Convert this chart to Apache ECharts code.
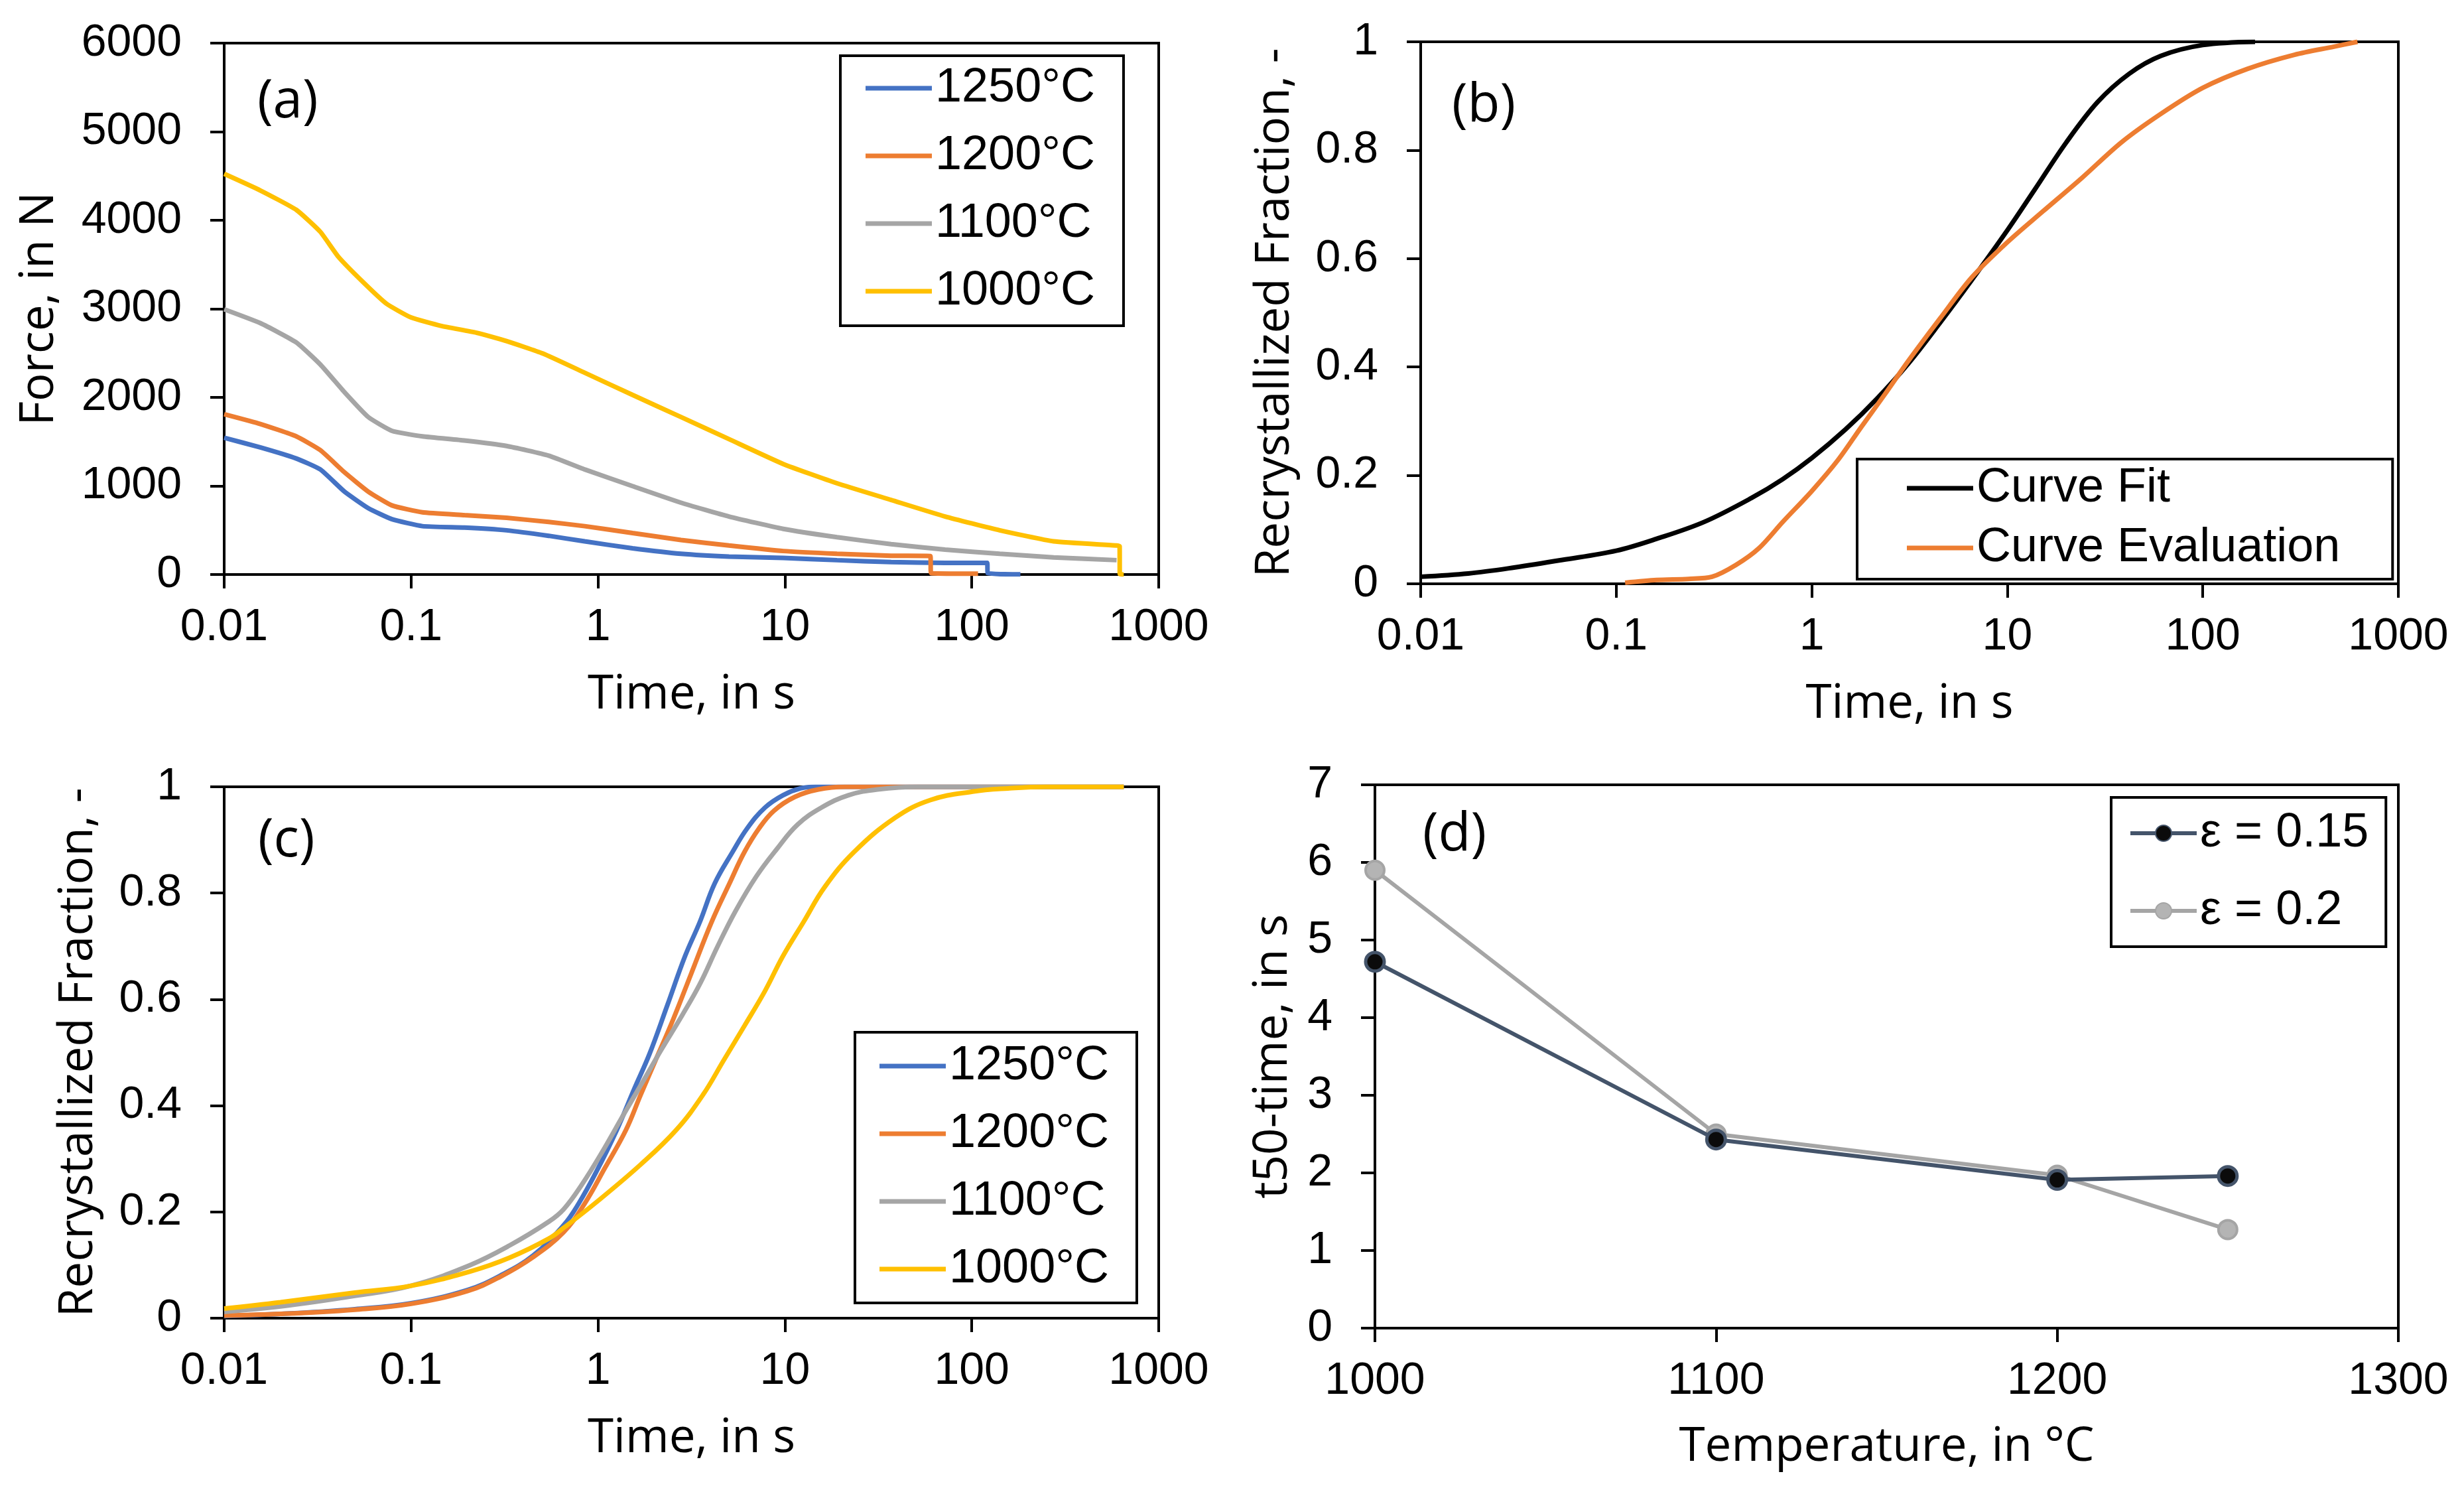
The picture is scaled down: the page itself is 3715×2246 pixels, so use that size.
<!DOCTYPE html>
<html>
<head>
    <meta charset="utf-8">
    <title>Recrystallization</title>
    <style>
        html, body { margin: 0; padding: 0; background: #fff; }
        #container { width: 3715px; height: 2246px; }
    </style>
</head>
<body>
    <div id="container"></div>
    <script src="https://cdn.jsdelivr.net/npm/echarts@6/dist/echarts.min.js"></script>
    <script type="text/javascript">

        // (a) force relaxation, [time s, force N]
        var force1250 = [[0.01, 1544], [0.0156, 1435], [0.0243, 1310], [0.0327, 1186], [0.044, 936], [0.059, 749], [0.079, 624], [0.115, 546], [0.193, 530], [0.324, 499], [0.545, 437], [0.849, 374], [1.53, 296], [2.78, 234], [5.02, 203], [9.8, 187], [19, 162], [37, 140], [72, 131], [121, 131], [121.5, 16], [182, 2]];
        var force1200 = [[0.01, 1810], [0.0156, 1700], [0.0243, 1560], [0.0327, 1404], [0.044, 1154], [0.059, 936], [0.079, 780], [0.115, 702], [0.193, 671], [0.324, 640], [0.545, 593], [0.849, 546], [1.53, 468], [2.78, 390], [5.02, 328], [9.8, 265], [19, 234], [37, 212], [60, 209], [60.5, 16], [108, 9]];
        var force1100 = [[0.01, 2995], [0.0156, 2839], [0.0243, 2621], [0.0327, 2371], [0.044, 2059], [0.059, 1778], [0.079, 1622], [0.115, 1560], [0.193, 1513], [0.324, 1451], [0.545, 1342], [0.849, 1186], [1.53, 998], [2.78, 811], [5.02, 655], [9.8, 515], [19, 421], [37, 343], [72, 281], [141, 234], [274, 193], [595, 162]];
        var force1000 = [[0.01, 4524], [0.0156, 4337], [0.0243, 4118], [0.0327, 3869], [0.0408, 3588], [0.055, 3307], [0.0738, 3058], [0.1, 2902], [0.144, 2808], [0.224, 2730], [0.324, 2636], [0.506, 2496], [0.849, 2278], [1.53, 2028], [2.78, 1778], [5.02, 1529], [9.8, 1248], [19, 1030], [37, 842], [72, 655], [141, 499], [274, 374], [595, 328], [618, 320], [619, 5], [650, 0]];

        // (b) fit vs evaluation, [time s, fraction]
        var curveFit = [[0.01, 0.013], [0.0175, 0.019], [0.03, 0.03], [0.053, 0.044], [0.1, 0.061], [0.161, 0.083], [0.281, 0.114], [0.49, 0.158], [0.71, 0.193], [1, 0.232], [1.49, 0.285], [2.16, 0.342], [3.13, 0.407], [4.54, 0.482], [6.57, 0.56], [10, 0.652], [13.8, 0.727], [20, 0.814], [29, 0.889], [42, 0.941], [61, 0.974], [100, 0.994], [185, 1]];
        var curveEval = [[0.111, 0.002], [0.161, 0.007], [0.234, 0.009], [0.309, 0.013], [0.41, 0.035], [0.538, 0.066], [0.71, 0.114], [1, 0.171], [1.36, 0.228], [1.79, 0.289], [2.37, 0.35], [3.13, 0.412], [4.54, 0.49], [6.57, 0.565], [10, 0.63], [15.2, 0.687], [24.1, 0.749], [38.2, 0.814], [61, 0.867], [100, 0.915], [169, 0.95], [294, 0.976], [468, 0.991], [618, 1]];

        // (c) recrystallized fraction per temperature, [time s, fraction]
        var rec1250 = [[0.01, 0.004], [0.02, 0.008], [0.05, 0.017], [0.1, 0.028], [0.2, 0.053], [0.3, 0.08], [0.45, 0.118], [0.655, 0.175], [0.786, 0.215], [0.978, 0.275], [1.26, 0.354], [1.57, 0.433], [1.89, 0.498], [2.35, 0.589], [2.92, 0.681], [3.51, 0.746], [4.21, 0.818], [5.24, 0.877], [6.29, 0.922], [7.83, 0.961], [9.75, 0.984], [12.1, 0.997], [14.6, 1], [650, 1]];
        var rec1200 = [[0.01, 0.005], [0.02, 0.008], [0.05, 0.016], [0.1, 0.027], [0.2, 0.051], [0.3, 0.078], [0.45, 0.115], [0.655, 0.162], [0.846, 0.215], [1.09, 0.283], [1.41, 0.354], [1.69, 0.42], [2.03, 0.485], [2.53, 0.563], [3.15, 0.648], [4.06, 0.746], [5.05, 0.818], [6.07, 0.877], [7.28, 0.922], [8.74, 0.955], [11.3, 0.981], [15.1, 0.995], [21, 1], [650, 1]];
        var rec1100 = [[0.01, 0.012], [0.02, 0.022], [0.05, 0.042], [0.1, 0.061], [0.207, 0.1], [0.337, 0.137], [0.547, 0.182], [0.655, 0.205], [0.815, 0.25], [1.05, 0.312], [1.36, 0.381], [1.75, 0.447], [2.18, 0.505], [2.82, 0.57], [3.51, 0.629], [4.37, 0.7], [5.44, 0.766], [7.02, 0.831], [9.06, 0.883], [11.7, 0.929], [15.7, 0.961], [21.8, 0.984], [31.3, 0.995], [52, 1], [650, 1]];
        var rec1000 = [[0.01, 0.018], [0.02, 0.03], [0.05, 0.048], [0.1, 0.061], [0.207, 0.088], [0.337, 0.114], [0.547, 0.15], [0.655, 0.17], [0.978, 0.218], [1.69, 0.289], [2.62, 0.354], [3.64, 0.42], [4.7, 0.485], [6.07, 0.55], [7.83, 0.616], [9.75, 0.681], [12.6, 0.746], [16.3, 0.811], [23.4, 0.877], [39, 0.942], [60, 0.975], [101, 0.991], [156, 0.997], [250, 1], [650, 1]];

        // (d) t50 vs temperature
        var temps = [1000, 1100, 1200, 1250];
        var t50Eps015 = [4.72, 2.43, 1.91, 1.96];
        var t50Eps02 = [5.9, 2.5, 1.97, 1.27];

        var tempNames = ['1250°C', '1200°C', '1100°C', '1000°C'];
        var tempColors = ['#4472C4', '#ED7D31', '#A5A5A5', '#FFC000'];

        var tickFont = 'Liberation Sans, Arial, sans-serif';
        var titleFont = 'Open Sans, Noto Sans, sans-serif';

        function pairs(xs, ys) {
            return xs.map(function (x, i) { return [x, ys[i]]; });
        }

        function plainNumber(v) {
            return String(+(+v).toPrecision(4));
        }

        function axisBase(idx, name, gap) {
            return {
                gridIndex: idx,
                name: name,
                nameLocation: 'middle',
                nameGap: gap,
                nameTextStyle: { fontFamily: titleFont, fontSize: 71, color: '#000' },
                axisLine: { show: true, lineStyle: { color: '#000', width: 4 } },
                axisTick: { show: true, inside: false, length: 21, lineStyle: { color: '#000', width: 4 } },
                axisLabel: { fontFamily: tickFont, fontSize: 68, color: '#000', formatter: plainNumber },
                splitLine: { show: false }
            };
        }

        function timeAxis(idx) {
            var ax = axisBase(idx, 'Time, in s', 146);
            ax.type = 'log';
            ax.logBase = 10;
            ax.min = 0.01;
            ax.max = 1000;
            ax.axisLabel.margin = 46;
            return ax;
        }

        function valueAxis(idx, name, gap, min, max, interval) {
            var ax = axisBase(idx, name, gap);
            ax.type = 'value';
            ax.min = min;
            ax.max = max;
            ax.interval = interval;
            ax.axisLabel.margin = 64;
            return ax;
        }

        var gridBox = { show: true, borderColor: '#000', borderWidth: 4, containLabel: false };

        function lineSeries(name, data, color, x, y, smooth) {
            return {
                type: 'line',
                name: name,
                xAxisIndex: x,
                yAxisIndex: y,
                data: data,
                symbol: 'none',
                smooth: smooth,
                color: color,
                lineStyle: { color: color, width: 7 },
                z: 3
            };
        }

        function legendBox(names, left, top, padding, gap, lineOnly) {
            var lg = {
                data: names,
                orient: 'vertical',
                left: left,
                top: top,
                padding: padding,
                itemGap: gap,
                itemWidth: 100,
                itemHeight: lineOnly ? 7 : 30,
                borderColor: '#000',
                borderWidth: 4,
                backgroundColor: '#fff',
                selectedMode: false,
                textStyle: { fontFamily: tickFont, fontSize: 72, color: '#000', lineHeight: 70 }
            };
            if (lineOnly) {
                lg.icon = 'rect';
            } else {
                lg.lineStyle = { width: 6 };
            }
            return lg;
        }

        function panelLabel(text, left, top) {
            return {
                text: text,
                left: left,
                top: top,
                padding: 0,
                textStyle: { fontFamily: titleFont, fontSize: 80, fontWeight: 'normal', color: '#000' }
            };
        }

        var dom = document.getElementById('container');
        var myChart = echarts.init(dom, null, { renderer: 'canvas' });

        var forceSets = [force1250, force1200, force1100, force1000];
        var recSets = [rec1250, rec1200, rec1100, rec1000];

        var series = [];
        forceSets.forEach(function (d, i) {
            series.push(lineSeries(tempNames[i], d, tempColors[i], 0, 0, 0.15));
        });
        series.push(lineSeries('Curve Fit', curveFit, '#000000', 1, 1, 0.35));
        series.push(lineSeries('Curve Evaluation', curveEval, '#ED7D31', 1, 1, 0.3));
        recSets.forEach(function (d, i) {
            series.push(lineSeries(tempNames[i], d, tempColors[i], 2, 2, 0.4));
        });
        series.push({
            type: 'line', name: 'ε = 0.15', xAxisIndex: 3, yAxisIndex: 3,
            data: pairs(temps, t50Eps015),
            symbol: 'circle', symbolSize: 28,
            color: '#44546A',
            lineStyle: { color: '#44546A', width: 6 },
            itemStyle: { color: '#0b0b0b', borderColor: '#44546A', borderWidth: 5 },
            z: 4
        });
        series.push({
            type: 'line', name: 'ε = 0.2', xAxisIndex: 3, yAxisIndex: 3,
            data: pairs(temps, t50Eps02),
            symbol: 'circle', symbolSize: 28,
            color: '#A5A5A5',
            lineStyle: { color: '#A5A5A5', width: 6 },
            itemStyle: { color: '#B4B4B4', borderColor: '#A5A5A5', borderWidth: 4 },
            z: 3
        });

        var option = {
            backgroundColor: '#fff',
            animation: false,
            title: [
                panelLabel('(a)', 388, 114),
                panelLabel('(b)', 2189, 120),
                panelLabel('(c)', 389, 1228),
                panelLabel('(d)', 2145, 1219)
            ],
            legend: [
                legendBox(tempNames, 1267, 84, [13, 43, 16, 38], 30, true),
                legendBox(['Curve Fit', 'Curve Evaluation'], 2800, 692, [8, 79, 11, 75], 18, true),
                legendBox(tempNames, 1289, 1556, [15, 42, 15, 37], 30, true),
                legendBox(['ε = 0.15', 'ε = 0.2'], 3183, 1202, [18, 26, 18, 26], 45, false)
            ],
            grid: [
                Object.assign({ left: 338, top: 65, width: 1409, height: 801 }, gridBox),
                Object.assign({ left: 2142, top: 63, width: 1474, height: 817 }, gridBox),
                Object.assign({ left: 338, top: 1186, width: 1409, height: 801 }, gridBox),
                Object.assign({ left: 2073, top: 1183, width: 1543, height: 819 }, gridBox)
            ],
            xAxis: [
                timeAxis(0),
                timeAxis(1),
                timeAxis(2),
                (function () {
                    var ax = valueAxis(3, 'Temperature, in °C', 144, 1000, 1300, 100);
                    ax.axisLabel.margin = 46;
                    return ax;
                })()
            ],
            yAxis: [
                valueAxis(0, 'Force, in N', 243, 0, 6000, 1000),
                valueAxis(1, 'Recrystallized Fraction, -', 184, 0, 1, 0.2),
                valueAxis(2, 'Recrystallized Fraction, -', 184, 0, 1, 0.2),
                valueAxis(3, 't50-time, in s', 118, 0, 7, 1)
            ],
            series: series
        };

        if (option && typeof option === 'object') {
            myChart.setOption(option);
        }

        window.addEventListener('resize', myChart.resize);
    </script>
</body>
</html>
